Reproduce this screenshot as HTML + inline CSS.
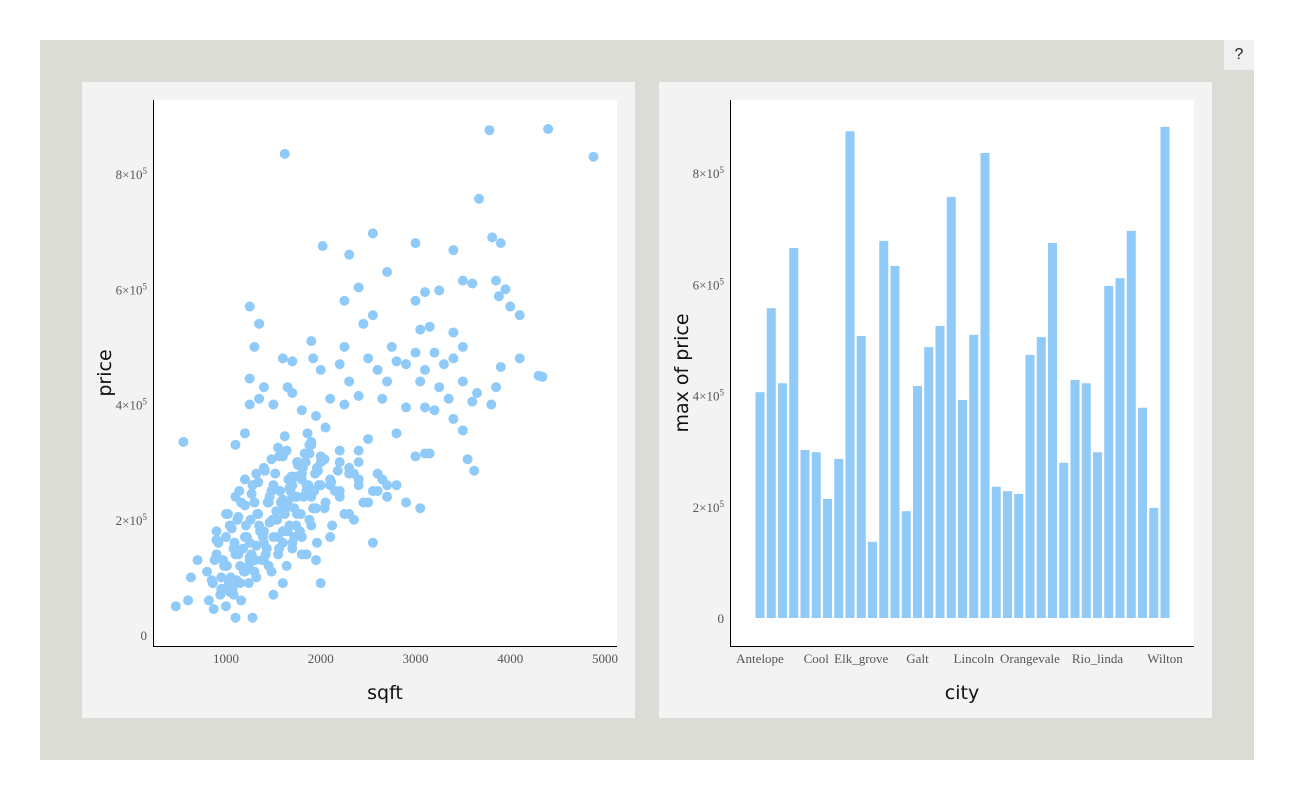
<!DOCTYPE html>
<html><head><meta charset="utf-8"><style>
body{margin:0;width:1294px;height:800px;background:#fff;font-family:"Liberation Sans",sans-serif;overflow:hidden}
#outer{position:absolute;left:40px;top:40px;width:1214px;height:720px;background:#dcdcd7}
#help{position:absolute;left:1224px;top:40px;width:30px;height:30px;background:#f0f0f0;text-align:center;line-height:30px;font-size:16px;color:#222}
.panel{position:absolute;top:82px;width:553px;height:636px;background:#f3f3f3}
svg text{font-family:"Liberation Serif",serif;font-size:13px;fill:#555}
svg text.t{font-family:"DejaVu Sans","Liberation Sans",sans-serif;font-size:19px;fill:#111}
</style></head><body>
<div id="outer"></div>
<div id="help">?</div>
<div class="panel" style="left:82px"></div>
<div class="panel" style="left:659px"></div>
<svg id="s" width="1294" height="800" style="position:absolute;left:0;top:0"></svg>
<script>
const sqft=[4878,4400,3780,1620,3670,3810,3900,2550,2020,3000,3400,2300,2700,3500,3600,3850,3950,3880,3100,3250,2400,2250,3000,4000,4100,2550,1250,1350,2450,3050,3150,3400,1300,1900,2250,2750,3500,4100,1600,1700,2500,3200,3400,3000,2200,1920,2800,3300,3900,2900,2000,2600,3100,4300,4340,1250,1400,1650,2300,2700,3050,3250,3500,3850,3650,1350,1700,2100,2400,3100,3350,3600,3800,550,1100,1250,1200,1500,1800,1950,2250,2650,2900,3200,3400,3500,3550,3620,3100,2350,1800,1750,2050,2500,2800,3000,3150,2700,2900,3050,2600,2400,2200,2550,2100,1850,1950,2000,1600,1500,1100,1280,870,470,600,630,700,900,1650,1700,
800,850,900,950,1000,1050,1100,1150,1200,1250,1300,1350,1400,1450,1500,1550,1600,1650,1700,1750,1800,1850,1900,1950,2000,
820,880,940,1000,1060,1120,1180,1240,1300,1360,1420,1480,1540,1600,1660,1720,1780,1840,1900,1960,
860,920,980,1040,1100,1160,1220,1280,1340,1400,1460,1520,1580,1640,1700,1760,1820,1880,1940,2000,2100,2200,2300,2400,
900,960,1020,1080,1140,1200,1260,1320,1380,1440,1500,1560,1620,1680,1740,1800,1860,1920,1980,2050,2150,2250,2350,2450,2550,2650,
1000,1080,1160,1240,1320,1400,1480,1560,1640,1720,1800,1880,1960,2040,2120,2200,2300,2400,2500,2600,2700,2800,
1000,1100,1200,1300,1400,1500,1600,1700,1800,1900,2000,2100,2200,2300,2400,
950,1010,1070,1130,1190,1250,1310,1370,1430,1490,1550,1610,1670,1730,1790,1850,
970,1030,1090,1150,1210,1270,1330,1390,1450,1510,1570,1630,1690,1750,1810,1870,1930,
1040,1110,1180,1250,1320,1390,1460,1530,1600,1670,1740,1810,1880,
1060,1130,1200,1270,1340,1410,1480,1550,1620,1690,1760,1830,1900,1970,2040,2110,2180];
const price=[830,878,876,835,757,690,680,697,675,680,668,660,630,615,610,615,600,588,595,598,603,580,580,570,555,555,570,540,540,530,535,525,500,510,500,500,500,480,480,475,480,490,480,490,470,480,475,470,465,470,460,460,460,450,448,445,430,430,440,440,440,430,440,430,420,410,420,410,415,395,410,405,400,335,330,400,350,400,390,380,400,410,395,390,375,355,305,285,315,200,280,300,360,340,350,310,315,260,230,220,250,270,300,160,170,140,130,90,90,70,30,30,45,50,60,100,130,165,180,160,
110,95,140,80,120,100,150,90,170,130,110,190,160,120,200,140,180,230,150,210,170,250,190,220,260,
60,130,70,170,90,200,150,120,230,180,140,250,200,160,270,220,180,300,240,290,
90,160,120,190,140,230,170,260,210,180,240,280,230,320,260,300,240,330,280,310,270,250,290,320,
180,80,210,150,250,110,200,280,130,230,170,310,210,250,190,270,350,220,260,230,250,210,280,230,250,270,
50,70,60,90,100,130,110,150,120,170,140,200,160,220,190,240,210,260,230,280,240,260,
210,240,270,230,290,260,310,240,280,330,300,260,320,280,300,
100,120,80,140,110,160,130,180,150,200,170,220,190,240,210,260,
130,90,160,120,190,140,210,170,230,200,250,220,270,240,290,260,250,
75,95,115,135,155,175,195,215,235,255,275,295,315,
185,205,225,245,265,285,305,325,345,275,295,315,335,285,305,265,285];
const cities=["Antelope","Auburn","Cameron_park","Carmichael","Citrus_heights","Cool","Diamond_springs","El_dorado","El_dorado_hills","Elk_grove","Elverta","Fair_oaks","Folsom","Foresthill","Galt","Garden_valley","Gold_river","Granite_bay","Greenwood","Lincoln","Loomis","Mather","Meadow_vista","North_highlands","Orangevale","Penryn","Placerville","Pollock_pines","Rancho_cordova","Rancho_murieta","Rio_linda","Rocklin","Roseville","Sacramento","Shingle_springs","Sloughhouse","Wilton"];
const maxPrice=[406,557,422,665,302,298,214,286,875,507,137,678,633,192,417,487,525,757,392,509,836,236,228,223,473,505,674,279,428,422,298,597,611,696,378,198,883];
const xTicks=[1000,2000,3000,4000,5000];
const yTicks=[0,2,4,6,8];
const labeledCities=["Antelope","Cool","Elk_grove","Galt","Lincoln","Orangevale","Rio_linda","Wilton"];
const NS="http://www.w3.org/2000/svg",svg=document.getElementById('s');
function el(t,a,txt){const e=document.createElementNS(NS,t);for(const k in a)e.setAttribute(k,a[k]);if(txt!==undefined)e.textContent=txt;svg.appendChild(e);return e;}
function tick(x,y,v,anchor){const t=el('text',{x:x,y:y,'text-anchor':anchor});if(v===0)t.textContent='0';else{t.textContent=v+'×10';const s=document.createElementNS(NS,'tspan');s.setAttribute('dy','-5');s.setAttribute('font-size','9');s.textContent='5';t.appendChild(s);}return t;}
// scatter
const sx=v=>226+(v-1000)*0.09475, sy=v=>635-v*0.57625;
let r=el('rect',{x:153,y:100,width:464,height:546,fill:'#fff'});

for(let i=0;i<sqft.length;i++){const c=el('circle',{cx:sx(sqft[i]),cy:sy(price[i]),r:5,fill:'#90caf9'});
}
let a=el('path',{d:'M153.5 100V646.5H617',stroke:'#000','stroke-width':1,fill:'none'});

xTicks.forEach(v=>{const t=el('text',{x:sx(v),y:663,'text-anchor':'middle'},v);});
yTicks.forEach(v=>{const t=tick(147,sy(v*100)+5,v,'end');});
let t1=el('text',{x:385,y:699,'text-anchor':'middle',class:'t'},'sqft');
let t2=el('text',{x:111,y:373,'text-anchor':'middle',class:'t',transform:'rotate(-90 111 373)'},'price');
// bar
const bx=i=>760+i*11.25, by=v=>618-v*0.55625;
let r2=el('rect',{x:730,y:100,width:464,height:546,fill:'#fff'});

for(let i=0;i<maxPrice.length;i++){const b=el('rect',{x:bx(i)-4.5,y:by(maxPrice[i]),width:9,height:618-by(maxPrice[i]),fill:'#90caf9'});
}
let a2=el('path',{d:'M730.5 100V646.5H1194',stroke:'#000','stroke-width':1,fill:'none'});

labeledCities.forEach(c=>{const t=el('text',{x:bx(cities.indexOf(c)),y:663,'text-anchor':'middle'},c);});
yTicks.forEach(v=>{const t=tick(724,by(v*100)+5,v,'end');});
let t3=el('text',{x:962,y:699,'text-anchor':'middle',class:'t'},'city');
let t4=el('text',{x:688,y:373,'text-anchor':'middle',class:'t',transform:'rotate(-90 688 373)'},'max of price');
</script>
</body></html>
